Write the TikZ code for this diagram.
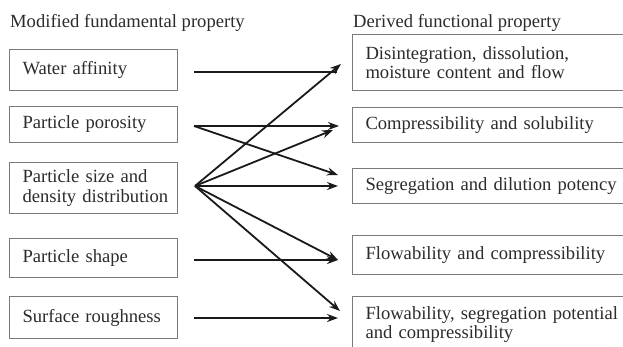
\documentclass[tikz,border=0pt]{standalone}
\usepackage{fontspec}
\setmainfont{Liberation Serif}
\usetikzlibrary{arrows.meta}
\definecolor{txt}{HTML}{2C2C2C}
\definecolor{boxc}{HTML}{7A7A7A}
\definecolor{arrc}{HTML}{1A1A1A}
\begin{document}
\begin{tikzpicture}[x=1pt,y=-1pt,
  every node/.style={font=\fontsize{18.6}{19.5}\selectfont, text=txt},
  lbox/.style={draw=boxc, line width=1pt, text width=142pt, inner xsep=13pt, inner ysep=0pt, align=left, anchor=north west},
  rbox/.style={draw=boxc, line width=1pt, text width=300pt, inner xsep=13pt, inner ysep=0pt, align=left, anchor=north west},
  arr/.style={draw=arrc, line width=1.8pt, -{Stealth[length=11pt,width=8pt]}},
  ln/.style={draw=arrc, line width=1.8pt}]
\clip (0,0) rectangle (623,346);
\fill[white] (0,0) rectangle (623,346);
% titles
\node[anchor=base west, inner sep=0pt] (tl) at (10,27) {Modified fundamental property};
\node[anchor=base west, inner sep=0pt] (tr) at (353,27) {Derived functional property};
% left boxes
\node[lbox, minimum height=41pt] (l1) at (9,49) {Water affinity};
\node[lbox, minimum height=36pt] (l2) at (9,106) {Particle porosity};
\node[lbox, minimum height=51pt] (l3) at (9,162) {Particle size and\\\mbox{density distribution}};
\node[lbox, minimum height=39pt] (l4) at (9,238) {Particle shape};
\node[lbox, minimum height=42pt] (l5) at (9,296) {Surface roughness};
% right boxes
\node[rbox, minimum height=56pt] (r1) at (352,34) {Disintegration, dissolution,\\moisture content and flow};
\node[rbox, minimum height=35pt] (r2) at (352,107) {Compressibility and solubility};
\node[rbox, minimum height=35pt] (r3) at (352,168) {Segregation and dilution potency};
\node[rbox, minimum height=39pt] (r4) at (352,235) {Flowability and compressibility};
\node[rbox, minimum height=56pt] (r5) at (352,296) {Flowability, segregation potential\\and compressibility};
% connector points
\coordinate (s1) at (194,72);
\coordinate (s2) at (194,126);
\coordinate (s3) at (195,186);
\coordinate (s4) at (194,260);
\coordinate (s5) at (194,318);
\coordinate (e1) at (337,72);
\coordinate (t1) at (341,64);
\coordinate (t2a) at (339,126);
\coordinate (t2b) at (333,130);
\coordinate (t3a) at (338,175);
\coordinate (t3b) at (338,186);
\coordinate (t4) at (338,260);
\coordinate (t5a) at (340,311);
\coordinate (t5b) at (338,318);
% connectors
\draw[ln] (s1) -- (e1);
\draw[arr] (s2) -- (t2a);
\draw[arr] (s2) -- (t3a);
\draw[arr] (s3) -- (t1);
\draw[arr] (s3) -- (t2b);
\draw[arr] (s3) -- (t3b);
\draw[arr] (s3) -- (t4);
\draw[arr] (s3) -- (t5a);
\draw[arr] (s4) -- (t4);
\draw[arr] (s5) -- (t5b);
\end{tikzpicture}
\end{document}
